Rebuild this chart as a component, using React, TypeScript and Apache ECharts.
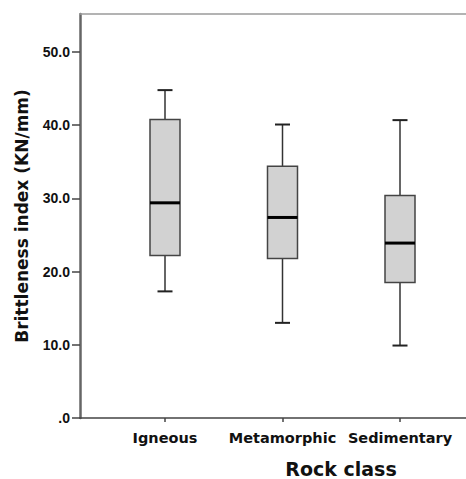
import React, { useEffect, useRef } from "react";
import * as echarts from "echarts";

const categories = ["Igneous", "Metamorphic", "Sedimentary"];
// [min, Q1, median, Q3, max]
const boxValues = [
  [17.3, 22.2, 29.4, 40.8, 44.8],
  [13.0, 21.8, 27.4, 34.4, 40.1],
  [9.9, 18.5, 23.9, 30.4, 40.7],
];
const yTicks = [0, 10, 20, 30, 40, 50];
const yAxisTitle = "Brittleness index (KN/mm)";
const xAxisTitle = "Rock class";

const FONT = "DejaVu Sans";
const TICK_FONT = "Liberation Sans";
const X_MIN = -0.7234;
const X_MAX = 2.7319;

export default function App() {
  const ref = useRef<HTMLDivElement>(null);
  useEffect(() => {
    if (!ref.current) return;
    const chart = echarts.init(ref.current, null, { renderer: "svg" });
    const data = boxValues.map((v, i) => [i, ...v]);
    chart.setOption({
      animation: false,
      backgroundColor: "#ffffff",
      grid: {
        left: 80,
        top: 14,
        bottom: 61,
        right: -20,
        outerBoundsMode: "none",
        show: false,
      },
      xAxis: [
        {
          type: "value",
          min: X_MIN,
          max: X_MAX,
          splitLine: { show: false },
          axisLine: { show: true, onZero: false, lineStyle: { color: "#444", width: 1.5 } },
          axisTick: {
            show: true,
            customValues: [0, 1, 2],
            length: 4,
            lineStyle: { color: "#444", width: 1.5 },
          },
          axisLabel: {
            customValues: [0, 1, 2],
            formatter: (v: number) => categories[Math.round(v)] ?? "",
            fontFamily: FONT,
            fontWeight: "bold",
            fontSize: 14.5,
            color: "#111",
            margin: 12,
          },
        },
        {
          type: "value",
          position: "top",
          min: X_MIN,
          max: X_MAX,
          splitLine: { show: false },
          axisLine: { show: true, onZero: false, lineStyle: { color: "#9a9a9a", width: 1.5 } },
          axisTick: { show: false },
          axisLabel: { show: false },
        },
      ],
      yAxis: {
        type: "value",
        min: 0,
        max: 55.2,
        splitLine: { show: false },
        axisLine: { show: true, onZero: false, lineStyle: { color: "#666", width: 2.5 } },
        axisTick: {
          show: true,
          customValues: yTicks,
          length: 8,
          lineStyle: { color: "#444", width: 1.5 },
        },
        axisLabel: {
          customValues: yTicks,
          formatter: (v: number) => (v === 0 ? ".0" : v.toFixed(1)),
          fontFamily: TICK_FONT,
          fontWeight: "bold",
          fontSize: 14,
          color: "#111",
          margin: 10,
        },
        name: yAxisTitle,
        nameLocation: "middle",
        nameGap: 50,
        nameRotate: 90,
        nameTextStyle: {
          fontFamily: FONT,
          fontWeight: "bold",
          fontSize: 17,
          color: "#111",
        },
      },
      graphic: [
        {
          type: "text",
          x: 341,
          y: 468.5,
          style: {
            text: xAxisTitle,
            fontFamily: FONT,
            fontWeight: "bold",
            fontSize: 19,
            fill: "#111",
            align: "center",
            verticalAlign: "middle",
          },
        },
      ],
      series: [
        {
          type: "custom",
          xAxisIndex: 0,
          yAxisIndex: 0,
          data,
          renderItem: (params: any, api: any) => {
            const x = api.value(0);
            const pMin = api.coord([x, api.value(1)]);
            const pQ1 = api.coord([x, api.value(2)]);
            const pMed = api.coord([x, api.value(3)]);
            const pQ3 = api.coord([x, api.value(4)]);
            const pMax = api.coord([x, api.value(5)]);
            const cx = pMin[0];
            const bw = 30;
            const cw = 15;
            const lineStyle = { stroke: "#333", lineWidth: 1.5 };
            return {
              type: "group",
              children: [
                { type: "line", shape: { x1: cx, y1: pMax[1], x2: cx, y2: pQ3[1] }, style: lineStyle },
                { type: "line", shape: { x1: cx, y1: pQ1[1], x2: cx, y2: pMin[1] }, style: lineStyle },
                { type: "line", shape: { x1: cx - cw / 2, y1: pMax[1], x2: cx + cw / 2, y2: pMax[1] }, style: { stroke: "#222", lineWidth: 2 } },
                { type: "line", shape: { x1: cx - cw / 2, y1: pMin[1], x2: cx + cw / 2, y2: pMin[1] }, style: { stroke: "#222", lineWidth: 2 } },
                {
                  type: "rect",
                  shape: { x: cx - bw / 2, y: pQ3[1], width: bw, height: pQ1[1] - pQ3[1] },
                  style: { fill: "#d2d2d2", stroke: "#444", lineWidth: 1.5 },
                },
                { type: "line", shape: { x1: cx - bw / 2, y1: pMed[1], x2: cx + bw / 2, y2: pMed[1] }, style: { stroke: "#000", lineWidth: 3 } },
              ],
            };
          },
        },
      ],
    });
    return () => chart.dispose();
  }, []);
  return (
    <div
      ref={ref}
      style={{ position: "fixed", left: 0, top: 0, width: 466, height: 479, background: "#fff" }}
    />
  );
}
